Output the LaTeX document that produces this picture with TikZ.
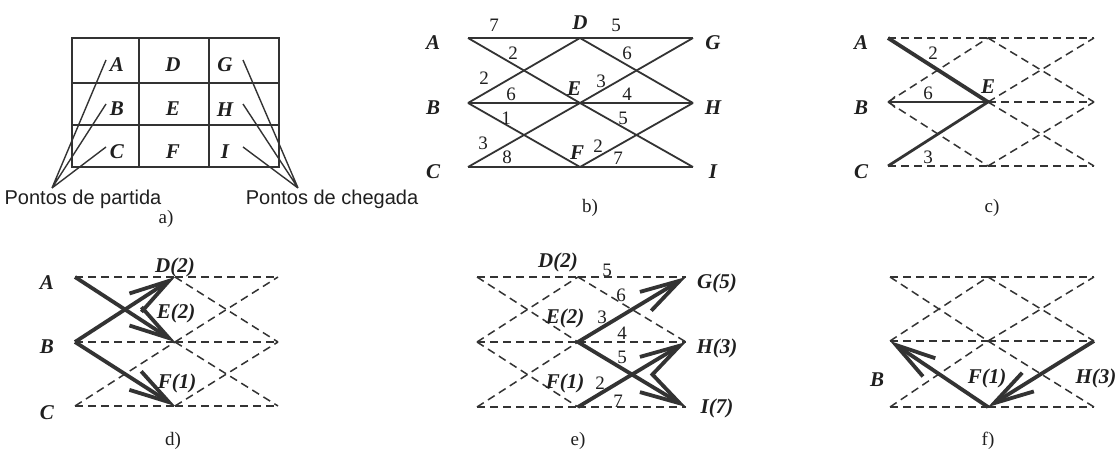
\documentclass[tikz,border=0pt]{standalone}
\usepackage{fontspec}
\setmainfont{Liberation Serif}
\newfontfamily\arialf{Liberation Sans}
\usetikzlibrary{arrows.meta}
\definecolor{ink}{gray}{0.2}
\definecolor{txt}{gray}{0.12}
\newcommand\mknet[7]{%
  \coordinate (#1A) at (#2,#5); \coordinate (#1B) at (#2,#6); \coordinate (#1C) at (#2,#7);
  \coordinate (#1D) at (#3,#5); \coordinate (#1E) at (#3,#6); \coordinate (#1F) at (#3,#7);
  \coordinate (#1G) at (#4,#5); \coordinate (#1H) at (#4,#6); \coordinate (#1I) at (#4,#7);}
\begin{document}
\begin{tikzpicture}[x=1pt,y=-1pt,
  lbl/.style={font=\fontsize{21}{23}\selectfont\bfseries\itshape, text=txt, inner sep=0pt},
  num/.style={font=\fontsize{19}{21}\selectfont, text=txt, inner sep=0pt},
  captxt/.style={font=\fontsize{19}{21}\selectfont, text=txt, inner sep=0pt},
  pont/.style={font=\arialf\fontsize{20}{22}\selectfont, text=txt, inner sep=0pt},
  solidedge/.style={draw=ink, line width=1.8pt},
  dsh/.style={draw=ink, line width=1.5pt, dash pattern=on 8pt off 5pt},
  thkarrow/.style={draw=ink, line width=3.8pt, -{Straight Barb[length=40pt,width=22pt]}},
  gridline/.style={draw=ink, line width=1.8pt},
  pointer/.style={draw=ink, line width=1.4pt}]
\useasboundingbox[fill=white] (0,0) rectangle (1120,452);

% ---------------- panel a ----------------
\draw[gridline] (72,38) rectangle (279,167);
\draw[gridline] (139,38) -- (139,167) (209,38) -- (209,167) (72,83) -- (279,83) (72,125) -- (279,125);
\node[lbl] (aA) at (117,65) {A};
\node[lbl] (aD) at (173,65) {D};
\node[lbl] (aG) at (225,65) {G};
\node[lbl] (aB) at (117,109) {B};
\node[lbl] (aE) at (173,109) {E};
\node[lbl] (aH) at (225,110) {H};
\node[lbl] (aC) at (117,152) {C};
\node[lbl] (aF) at (173,152) {F};
\node[lbl] (aI) at (225,152) {I};
\coordinate (pl) at (52,188);
\coordinate (pr) at (298,188);
\coordinate (pA) at (106,60); \coordinate (pB) at (106,104); \coordinate (pC) at (106,147);
\coordinate (pG) at (243,60); \coordinate (pH) at (243,104); \coordinate (pI) at (243,147);
\draw[pointer] (pA) -- (pl) -- (pB) (pl) -- (pC);
\draw[pointer] (pG) -- (pr) -- (pH) (pr) -- (pI);
\node[pont] (partida) at (83,199) {Pontos de partida};
\node[pont] (chegada) at (332,199) {Pontos de chegada};
\node[captxt] (capa) at (166,219) {a)};

% ---------------- panel b ----------------
\mknet{b}{468}{580}{693}{38}{103}{167}
\foreach \u/\v in {A/D,A/E,B/D,B/E,B/F,C/E,C/F,D/G,D/H,E/G,E/H,E/I,F/H,F/I}
  \draw[solidedge] (b\u) -- (b\v);
\node[lbl] (bLA) at (433,43) {A};
\node[lbl] (bLB) at (433,108) {B};
\node[lbl] (bLC) at (433,172) {C};
\node[lbl] (bLG) at (713,43) {G};
\node[lbl] (bLH) at (713,108) {H};
\node[lbl] (bLI) at (713,172) {I};
\node[lbl] (bLD) at (580,23) {D};
\node[lbl] (bLE) at (574,89) {E};
\node[lbl] (bLF) at (577,153) {F};
\node[num] (bw1) at (494,25) {7};
\node[num] (bw2) at (616,25) {5};
\node[num] (bw3) at (513,53) {2};
\node[num] (bw4) at (627,53) {6};
\node[num] (bw5) at (484,78) {2};
\node[num] (bw6) at (601,81) {3};
\node[num] (bw7) at (511,94) {6};
\node[num] (bw8) at (627,94) {4};
\node[num] (bw9) at (506,118) {1};
\node[num] (bw10) at (623,118) {5};
\node[num] (bw11) at (483,143) {3};
\node[num] (bw12) at (598,146) {2};
\node[num] (bw13) at (507,157) {8};
\node[num] (bw14) at (618,158) {7};
\node[captxt] (capb) at (590,208) {b)};

% ---------------- panel c ----------------
\mknet{c}{888}{988}{1094}{38}{102}{166}
\foreach \u/\v in {A/D,B/D,B/F,C/F,D/G,D/H,E/G,E/H,E/I,F/H,F/I}
  \draw[dsh] (c\u) -- (c\v);
\draw[draw=ink, line width=3.8pt] (cA) -- (cE);
\draw[draw=ink, line width=2.8pt] (cC) -- (cE);
\draw[draw=ink, line width=1.4pt, -{Straight Barb[length=6pt,width=11pt]}] (cE) -- (cB);
\node[lbl] (cLA) at (861,43) {A};
\node[lbl] (cLB) at (861,108) {B};
\node[lbl] (cLC) at (861,172) {C};
\node[lbl] (cLE) at (988,87) {E};
\node[num] (cw1) at (933,53) {2};
\node[num] (cw2) at (928,93) {6};
\node[num] (cw3) at (928,157) {3};
\node[captxt] (capc) at (992,208) {c)};

% ---------------- panel d ----------------
\mknet{d}{75}{175}{278}{277}{342}{406}
\foreach \u/\v in {A/D,B/E,C/E,C/F,D/G,D/H,E/G,E/H,E/I,F/H,F/I}
  \draw[dsh] (d\u) -- (d\v);
\draw[thkarrow] (dA) -- (dE);
\draw[thkarrow] (dB) -- (dD);
\draw[thkarrow] (dB) -- (dF);
\node[lbl] (dLA) at (47,283) {A};
\node[lbl] (dLB) at (47,347) {B};
\node[lbl] (dLC) at (47,413) {C};
\node[lbl] (dLD) at (175,267) {D(2)};
\node[lbl] (dLE) at (176,313) {E(2)};
\node[lbl] (dLF) at (177,383) {F(1)};
\node[captxt] (capd) at (173,441) {d)};

% ---------------- panel e ----------------
\mknet{e}{477}{578}{686}{277}{342}{407}
\foreach \u/\v in {A/D,A/E,B/D,B/E,B/F,C/E,C/F,D/G,D/H,E/H,F/I}
  \draw[dsh] (e\u) -- (e\v);
\draw[thkarrow] (eE) -- (eG);
\draw[thkarrow] (eE) -- (eI);
\draw[thkarrow] (eF) -- (eH);
\node[lbl] (eLD) at (558,262) {D(2)};
\node[lbl] (eLE) at (565,318) {E(2)};
\node[lbl] (eLF) at (565,383) {F(1)};
\node[lbl] (eLG) at (717,283) {G(5)};
\node[lbl] (eLH) at (717,348) {H(3)};
\node[lbl] (eLI) at (717,408) {I(7)};
\node[num] (ew1) at (607,270) {5};
\node[num] (ew2) at (621,295) {6};
\node[num] (ew3) at (602,317) {3};
\node[num] (ew4) at (622,333) {4};
\node[num] (ew5) at (622,357) {5};
\node[num] (ew6) at (600,383) {2};
\node[num] (ew7) at (618,401) {7};
\node[captxt] (cape) at (578,441) {e)};

% ---------------- panel f ----------------
\mknet{f}{890}{988}{1094}{277}{341}{407}
\foreach \u/\v in {A/D,A/E,B/D,B/E,C/E,C/F,D/G,D/H,E/G,E/H,E/I,F/I}
  \draw[dsh] (f\u) -- (f\v);
\draw[thkarrow] (fF) -- (fB);
\draw[thkarrow] (fH) -- (fF);
\node[lbl] (fLB) at (877,380) {B};
\node[lbl] (fLF) at (987,378) {F(1)};
\node[lbl] (fLH) at (1096,378) {H(3)};
\node[captxt] (capf) at (988,441) {f)};
\end{tikzpicture}
\end{document}
